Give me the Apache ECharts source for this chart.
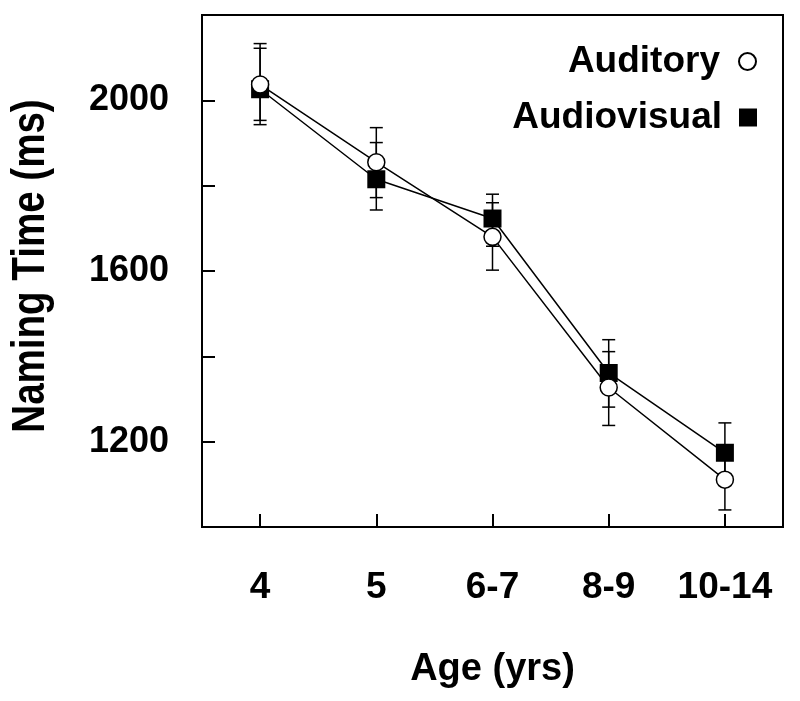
<!DOCTYPE html>
<html>
<head>
<meta charset="utf-8">
<script src="https://cdn.jsdelivr.net/npm/echarts@6/dist/echarts.min.js"></script>
<style>html,body{margin:0;padding:0;background:#fff}#c{width:800px;height:701px}</style>
</head>
<body>
<div id="c"></div>
<script>
// ---- data ----
var categories = ['4', '5', '6-7', '8-9', '10-14'];
var auditory      = [2037, 1855, 1680, 1327, 1111];
var auditoryHigh  = [2133, 1936, 1760, 1411, 1183];
var auditoryLow   = [1943, 1772, 1602, 1238, 1040];
var audiovisual     = [2026, 1815, 1723, 1361, 1174];
var audiovisualHigh = [2122, 1901, 1780, 1439, 1244];
var audiovisualLow  = [1953, 1743, 1658, 1281, 1104];
var yTickLabels = [1200, 1600, 2000];

var FONT = '"Liberation Sans", Arial, sans-serif';

function errData(lo, hi) {
  return categories.map(function (c, i) { return [i, lo[i], hi[i]]; });
}
function errRender(params, api) {
  var x = api.value(0);
  var lo = api.coord([x, api.value(1)]);
  var hi = api.coord([x, api.value(2)]);
  var w = 6.5;
  var st = { stroke: '#000', lineWidth: 1.5, fill: null };
  return {
    type: 'group',
    children: [
      { type: 'line', shape: { x1: lo[0], y1: lo[1], x2: hi[0], y2: hi[1] }, style: st },
      { type: 'line', shape: { x1: hi[0] - w, y1: hi[1], x2: hi[0] + w, y2: hi[1] }, style: st },
      { type: 'line', shape: { x1: lo[0] - w, y1: lo[1], x2: lo[0] + w, y2: lo[1] }, style: st }
    ]
  };
}

var chart = echarts.init(document.getElementById('c'), null, { renderer: 'canvas' });
chart.setOption({
  animation: false,
  backgroundColor: '#fff',
  grid: { left: 202, right: 17, top: 15, bottom: 174, show: true, borderColor: '#000', borderWidth: 2, backgroundColor: 'transparent' },
  graphic: [
    { type: 'text', x: 31, y: 266, rotation: Math.PI / 2, scaleX: 0.82, scaleY: 1,
      style: { text: 'Naming Time (ms)', fill: '#000', font: 'bold 47px "Liberation Sans", Arial, sans-serif',
               align: 'center', verticalAlign: 'middle' } }
  ],
  legend: [
    { data: [{ name: 'Auditory', icon: 'circle' }], right: 38, top: 38, orient: 'vertical', align: 'right',
      itemWidth: 17, itemHeight: 17, selectedMode: false,
      textStyle: { fontFamily: FONT, fontWeight: 'bold', fontSize: 37, color: '#000', padding: [0, 14, 0, 0] } },
    { data: [{ name: 'Audiovisual', icon: 'rect' }], right: 38, top: 94, orient: 'vertical', align: 'right',
      itemWidth: 18, itemHeight: 18, selectedMode: false,
      textStyle: { fontFamily: FONT, fontWeight: 'bold', fontSize: 37, color: '#000', padding: [0, 12, 0, 0] } }
  ],
  xAxis: {
    type: 'category', data: categories, boundaryGap: true,
    name: 'Age (yrs)', nameLocation: 'middle', nameGap: 124,
    nameTextStyle: { fontFamily: FONT, fontWeight: 'bold', fontSize: 38, color: '#000' },
    axisLine: { show: true, lineStyle: { color: '#000', width: 2 } },
    axisTick: { show: true, alignWithLabel: true, interval: 0, inside: true, length: 13, lineStyle: { color: '#000', width: 2 } },
    axisLabel: { interval: 0, margin: 42, fontFamily: FONT, fontWeight: 'bold', fontSize: 37, color: '#000' },
    splitLine: { show: false }
  },
  yAxis: {
    type: 'value', min: 1000, max: 2200, interval: 200,
    axisLine: { show: true, lineStyle: { color: '#000', width: 2 } },
    axisTick: { show: true, inside: true, length: 13, lineStyle: { color: '#000', width: 2 } },
    axisLabel: { margin: 33, fontFamily: FONT, fontWeight: 'bold', fontSize: 36, color: '#000',
      formatter: function (v) { return yTickLabels.indexOf(v) >= 0 ? String(v) : ''; } },
    splitLine: { show: false }
  },
  series: [
    { name: 'errAV', type: 'custom', renderItem: errRender, data: errData(audiovisualLow, audiovisualHigh), z: 1, silent: true },
    { name: 'errAud', type: 'custom', renderItem: errRender, data: errData(auditoryLow, auditoryHigh), z: 1, silent: true },
    { name: 'Audiovisual', type: 'line', data: audiovisual, z: 3,
      symbol: 'rect', symbolSize: 18, showAllSymbol: true,
      lineStyle: { color: '#000', width: 1.5 },
      itemStyle: { color: '#000', borderColor: '#000', borderWidth: 0 } },
    { name: 'Auditory', type: 'line', data: auditory, z: 4,
      symbol: 'circle', symbolSize: 17, showAllSymbol: true,
      lineStyle: { color: '#000', width: 1.5 },
      itemStyle: { color: '#fff', borderColor: '#000', borderWidth: 1.5 } }
  ]
});
</script>
</body>
</html>
